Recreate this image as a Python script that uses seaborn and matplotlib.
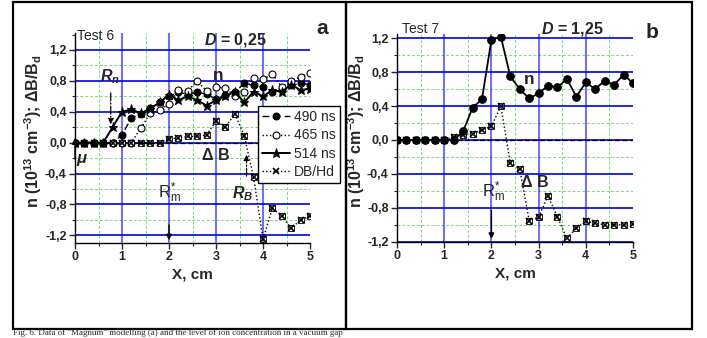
import numpy as np
import pandas as pd
import matplotlib
matplotlib.use("Agg")
import matplotlib.pyplot as plt
import seaborn as sns
from matplotlib.patches import Rectangle
from matplotlib.ticker import MultipleLocator, FuncFormatter

# x positions of the probe (cm)
x_cm = [0.0, 0.2, 0.4, 0.6, 0.8, 1.0, 1.2, 1.4, 1.6, 1.8, 2.0, 2.2, 2.4,
        2.6, 2.8, 3.0, 3.2, 3.4, 3.6, 3.8, 4.0, 4.2, 4.4, 4.6, 4.8, 5.0]

# Test 6 (panel a)
n_490 = [0, 0, 0, 0, 0, 0.10, 0.32, 0.37, 0.45, 0.52, 0.60, 0.65, 0.63,
         0.65, 0.63, 0.56, 0.62, 0.65, 0.77, 0.74, 0.72, 0.65, 0.70, 0.74, 0.77, 0.75]
n_465 = [0, 0, 0, 0, 0, 0, 0, 0.19, 0.38, 0.42, 0.50, 0.68, 0.67,
         0.80, 0.67, 0.72, 0.71, 0.60, 0.66, 0.84, 0.82, 0.89, 0.72, 0.80, 0.85, 0.90]
n_514 = [0, 0, 0, 0, 0.20, 0.40, 0.43, 0.38, 0.44, 0.52, 0.62, 0.55, 0.60,
         0.55, 0.48, 0.55, 0.60, 0.66, 0.52, 0.66, 0.60, 0.68, 0.66, 0.75, 0.68, 0.70]
db_a = [0, 0, 0, 0, 0, 0, 0, 0, 0, 0, 0.05, 0.06, 0.08,
        0.08, 0.10, 0.28, 0.20, 0.37, 0.09, -0.45, -1.25, -0.85, -0.95, -1.11, -1.00, -0.95]

# Test 7 (panel b)
n_b = [0, 0, 0, 0, 0, 0, 0, 0.10, 0.38, 0.48, 1.18, 1.22, 0.75,
       0.60, 0.49, 0.55, 0.64, 0.62, 0.72, 0.51, 0.68, 0.60, 0.70, 0.65, 0.77, 0.67]
db_b = [0, 0, 0, 0, 0, 0, 0.04, 0.06, 0.07, 0.12, 0.16, 0.40, -0.27,
        -0.34, -0.95, -0.91, -0.66, -0.91, -1.16, -1.04, -0.96, -0.98, -1.00, -1.00, -1.00, -0.99]

y_ticks = [-1.2, -0.8, -0.4, 0.0, 0.4, 0.8, 1.2]

sns.set_style("white")
plt.rcParams["font.family"] = ["Liberation Sans", "DejaVu Sans"]
plt.rcParams["mathtext.fontset"] = "custom"
plt.rcParams["mathtext.default"] = "regular"
plt.rcParams["mathtext.rm"] = "Liberation Sans"
plt.rcParams["mathtext.it"] = "Liberation Sans:italic:bold"
plt.rcParams["mathtext.bf"] = "Liberation Sans:bold"

W, H = 707, 338
fig = plt.figure(figsize=(W / 100, H / 100), dpi=100)

ax_a = fig.add_axes([75 / W, 1 - 243 / H, 235 / W, 210 / H])
ax_b = fig.add_axes([397 / W, 1 - 241.7 / H, 236 / W, 207.7 / H])

BLUE = "#0000e6"
GREEN = "#7fd67f"
YLABEL = "n (10$^{13}$ cm$^{-3}$); ΔB/B$_{d}$"


def style_axes(ax, ylo, yhi):
    ax.set_xlim(0, 5)
    ax.set_ylim(ylo, yhi)
    for v in [0.5, 1.5, 2.5, 3.5, 4.5]:
        ax.axvline(v, color=GREEN, lw=0.7, ls=(0, (3, 2)), zorder=0)
    for v in [-1.0, -0.6, -0.2, 0.2, 0.6, 1.0]:
        ax.axhline(v, color=GREEN, lw=0.7, ls=(0, (3, 2)), zorder=0)
    for v in [1, 2, 3, 4]:
        ax.axvline(v, color=BLUE, lw=1.5, alpha=0.55, zorder=0.5)
    for v in y_ticks:
        ax.axhline(v, color=BLUE, lw=1.2, zorder=0.5)
    ax.axhline(0, color="k", lw=0.9, ls=(0, (4, 2)), zorder=1)
    ax.spines["top"].set_visible(False)
    ax.spines["right"].set_visible(False)
    for s in ["left", "bottom"]:
        ax.spines[s].set_color("k")
        ax.spines[s].set_linewidth(1.0)
    ax.xaxis.set_major_locator(MultipleLocator(1))
    ax.xaxis.set_minor_locator(MultipleLocator(0.5))
    ax.set_yticks(y_ticks)
    ax.yaxis.set_minor_locator(MultipleLocator(0.2))
    ax.yaxis.set_major_formatter(FuncFormatter(lambda v, p: f"{v:.1f}".replace(".", ",").replace("-0,0", "0,0")))
    ax.tick_params(which="major", direction="out", length=4, width=1, labelsize=9, pad=2,
                   left=True, bottom=True)
    ax.tick_params(which="minor", direction="out", length=2, width=0.8, left=True, bottom=True)
    ax.set_xlabel("X, cm", fontsize=11, fontweight="bold", labelpad=3)


style_axes(ax_a, -1.3, 1.42)
style_axes(ax_b, -1.2, 1.25)

# ---- panel a ----
df_a = pd.DataFrame({"x": x_cm, "n490": n_490, "n465": n_465, "n514": n_514, "db": db_a})
sns.lineplot(data=df_a, x="x", y="n490", ax=ax_a, color="k", lw=1.0, ls=(0, (5, 3)),
             marker="o", markersize=5, mec="k", label="490 ns", zorder=3)
sns.lineplot(data=df_a, x="x", y="n465", ax=ax_a, color="k", lw=1.0, ls=":",
             marker="o", markersize=5, mfc="white", mec="k", mew=0.8, label="465 ns", zorder=3)
sns.lineplot(data=df_a, x="x", y="n514", ax=ax_a, color="k", lw=1.4, ls="-",
             marker="*", markersize=6.5, mec="k", label="514 ns", zorder=4)
sns.lineplot(data=df_a, x="x", y="db", ax=ax_a, color="k", lw=1.0, ls=":",
             marker="x", markersize=4, mew=1.2, mec="k", label="DB/Hd", zorder=3)
sns.lineplot(data=df_a, x="x", y="db", ax=ax_a, color="k", lw=0, ls="",
             marker="s", markersize=4, mfc="none", mec="k", mew=0.6, zorder=3)

handles, labels = ax_a.get_legend_handles_labels()
leg = ax_a.legend(handles[:4], labels[:4], loc="upper left", bbox_to_anchor=(0.779, 0.652),
                  fontsize=10, frameon=True, fancybox=False, edgecolor="k", framealpha=1,
                  handlelength=2.0, handletextpad=0.3, borderpad=0.3, labelspacing=0.3,
                  borderaxespad=0)
leg.get_frame().set_linewidth(1.0)
leg.set_zorder(10)

ax_a.text(0.04, 1.38, "Test 6", fontsize=10, va="center", ha="left")
ax_a.text(3.4, 1.33, "$\\mathit{D}$ = 0,25", fontsize=11.5, fontweight="bold", ha="center", va="center")
ax_a.text(3.04, 0.87, "n", fontsize=12.5, fontweight="bold", ha="center", va="center")
ax_a.text(0.74, 0.86, "$\\mathit{R_n}$", fontsize=11.5, ha="center", va="center")
ax_a.annotate("", xy=(0.76, 0.2), xytext=(0.76, 0.68),
              arrowprops=dict(arrowstyle="-|>", color="k", lw=0.9, ls="-.", mutation_scale=8))
ax_a.text(0.13, -0.2, "μ", fontsize=12, fontstyle="italic", fontweight="bold", ha="center", va="center")
ax_a.annotate("", xy=(0.0, 0.1), xytext=(0.0, -0.25),
              arrowprops=dict(arrowstyle="-|>", color="k", lw=1.0, mutation_scale=9))
ax_a.text(3.0, -0.17, "Δ B", fontsize=11.5, fontweight="bold", ha="center", va="center")
ax_a.annotate("", xy=(3.65, -0.12), xytext=(3.65, -0.47),
              arrowprops=dict(arrowstyle="-|>", color="k", lw=0.9, ls="-.", mutation_scale=8))
ax_a.text(3.57, -0.66, "$\\mathit{R_B}$", fontsize=11.5, ha="center", va="center")
ax_a.text(2.02, -0.65, "R$^{*}_{m}$", fontsize=12, ha="center", va="center")
ax_a.annotate("", xy=(2.0, -1.3), xytext=(2.0, -1.03),
              arrowprops=dict(arrowstyle="-|>", color="k", lw=1.0, mutation_scale=8))

# ---- panel b ----
df_b = pd.DataFrame({"x": x_cm, "n": n_b, "db": db_b})
sns.lineplot(data=df_b, x="x", y="n", ax=ax_b, color="k", lw=1.3, ls="-",
             marker="o", markersize=5.5, mec="k", zorder=3)
sns.lineplot(data=df_b, x="x", y="db", ax=ax_b, color="k", lw=1.0, ls=":",
             marker="x", markersize=4, mew=1.2, mec="k", zorder=3)
sns.lineplot(data=df_b, x="x", y="db", ax=ax_b, color="k", lw=0, ls="",
             marker="s", markersize=4, mfc="none", mec="k", mew=0.6, zorder=3)

ax_b.text(0.49, 1.31, "Test 7", fontsize=10, ha="center", va="center")
ax_b.text(3.72, 1.31, "$\\mathit{D}$ = 1,25", fontsize=11.5, fontweight="bold", ha="center", va="center")
ax_b.text(2.81, 0.71, "n", fontsize=12.5, fontweight="bold", ha="center", va="center")
ax_b.text(2.05, -0.61, "R$^{*}_{m}$", fontsize=12, ha="center", va="center")
ax_b.text(2.92, -0.5, "Δ B", fontsize=11.5, fontweight="bold", ha="center", va="center")
ax_b.annotate("", xy=(2.0, -1.2), xytext=(2.0, -0.8),
              arrowprops=dict(arrowstyle="-|>", color="k", lw=1.0, mutation_scale=8))

for ax, lx in ((ax_a, -0.13), (ax_b, -0.125)):
    ax.set_ylabel(YLABEL, fontsize=11.5, fontweight="bold")
    ax.yaxis.set_label_coords(lx, 0.533)
    for lab in ax.get_xticklabels() + ax.get_yticklabels():
        lab.set_fontweight("bold")

# panel letters and frames
fig.text(322 / W, 1 - 29 / H, "a", fontsize=15, fontweight="bold", ha="center", va="center")
fig.text(652 / W, 1 - 32 / H, "b", fontsize=15, fontweight="bold", ha="center", va="center")
fig.add_artist(Rectangle((13 / W, 1 - 329 / H), 333 / W, 327 / H, transform=fig.transFigure,
                         fill=False, edgecolor="k", lw=1.6))
fig.add_artist(Rectangle((346 / W, 1 - 329 / H), 346 / W, 327 / H, transform=fig.transFigure,
                         fill=False, edgecolor="k", lw=1.6))
fig.text(13 / W, 1 / H,
         'Fig. 6. Data of "Magnum" modelling (a) and the level of ion concentration in a vacuum gap',
         fontsize=6.5, family="Liberation Serif", ha="left", va="bottom")

fig.savefig("out.png", dpi=100)
